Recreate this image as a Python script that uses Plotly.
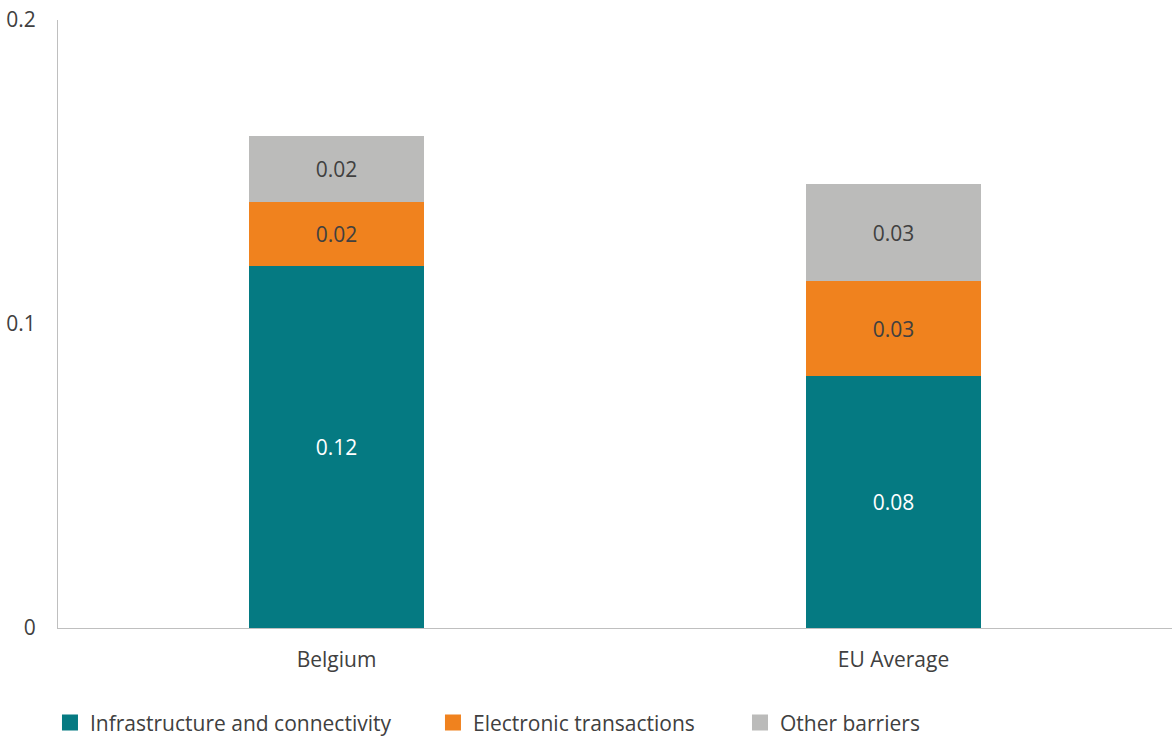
import plotly.graph_objects as go

categories = ["Belgium", "EU Average"]
infrastructure = [0.119, 0.083]
electronic = [0.021, 0.031]
other = [0.022, 0.032]
series_names = ["Infrastructure and connectivity", "Electronic transactions", "Other barriers"]
colors = ["#057A82", "#F0821E", "#BBBBBA"]
label_colors = ["#FFFFFF", "#404040", "#404040"]

fig = go.Figure()
for name, vals, c, lc in zip(series_names, [infrastructure, electronic, other], colors, label_colors):
    fig.add_trace(go.Bar(
        x=categories, y=vals, name=name, marker=dict(color=c, line=dict(width=0)),
        texttemplate="%{y:.2f}", textposition="inside", insidetextanchor="middle",
        textfont=dict(color=lc, size=21, family="Open Sans"), showlegend=False,
    ))

legend_ids = ["legend", "legend2", "legend3"]
legend_x = [-0.0072, 0.3366, 0.6122]
for name, c, lid in zip(series_names, colors, legend_ids):
    fig.add_trace(go.Scatter(
        x=[None], y=[None], mode="markers", name=name, legend=lid,
        marker=dict(symbol="square", size=16, color=c), showlegend=True,
    ))

legend_common = dict(orientation="h", xanchor="left", y=-0.156, yanchor="middle",
                     font=dict(size=21, color="#404040", family="Open Sans"),
                     bgcolor="rgba(0,0,0,0)")
fig.update_layout(
    barmode="stack", bargap=0.686,
    width=1172, height=738,
    margin=dict(l=58, r=0, t=20, b=110, autoexpand=False),
    paper_bgcolor="white", plot_bgcolor="white",
    font=dict(family="Open Sans", color="#404040", size=21),
    legend=dict(x=legend_x[0], **legend_common),
    legend2=dict(x=legend_x[1], **legend_common),
    legend3=dict(x=legend_x[2], **legend_common),
    uniformtext=dict(mode="show", minsize=10),
)
fig.update_yaxes(range=[0, 0.2], tickvals=[0, 0.1, 0.2], ticktext=["0", "0.1", "0.2"],
                 showgrid=False, showline=True, linecolor="#BFBFBF", linewidth=1,
                 ticks="", ticklabelstandoff=17, tickfont=dict(size=21, color="#404040"),
                 zeroline=False, automargin=False)
fig.update_xaxes(showgrid=False, showline=True, linecolor="#BFBFBF", linewidth=1,
                 ticks="", tickfont=dict(size=21, color="#404040"), ticklabelstandoff=13,
                 automargin=False)

fig.write_html("out.html", config={"displayModeBar": False},
               post_script="document.body.style.margin='0px';document.body.style.overflow='hidden';")
